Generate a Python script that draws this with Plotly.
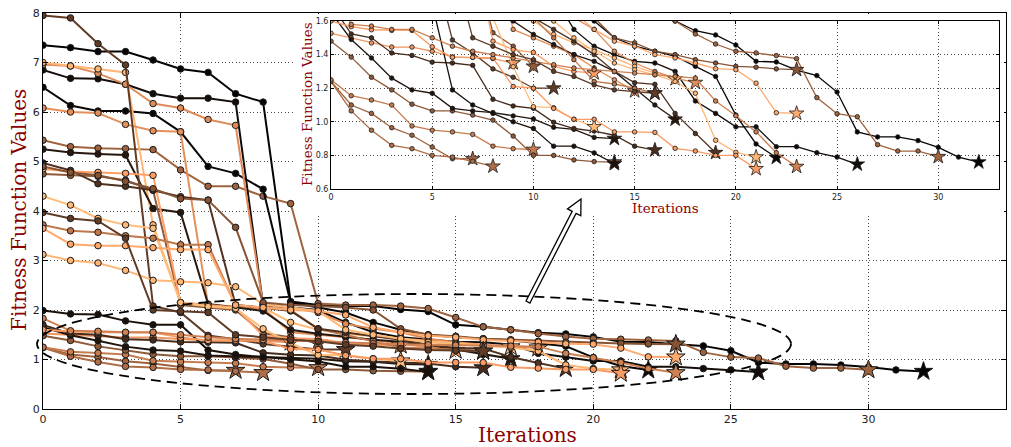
import math
import plotly.graph_objects as go

# ---------------- data (fitness value per iteration, one list per run) ----------------
run_01 = [7.35, 7.3, 7.22, 7.22, 7.05, 6.87, 6.8, 6.37, 6.2, 2.17, 2.1, 2.08, 2.08, 2.01, 1.97, 1.70, 1.66, 1.6,
          1.542, 1.517, 1.457, 1.36, 1.356, 1.308, 1.275, 1.177, 0.94, 0.91, 0.91, 0.888, 0.848, 0.79, 0.76]
run_02 = [5.43, 5.3, 5.27, 5.26, 5.24, 4.83, 4.5, 4.5, 4.3, 4.15, 2.13, 2.1, 2.1, 2.08, 2.03, 1.85, 1.66, 1.6,
          1.523, 1.463, 1.42, 1.41, 1.394, 1.376, 1.144, 1.048, 1.03, 0.864, 0.826, 0.826, 0.792]
run_03 = [6.85, 6.68, 6.67, 6.56, 6.37, 6.28, 6.28, 6.2, 2.1, 2.05, 2.0, 1.75, 1.55, 1.45, 1.40, 1.36, 1.35, 1.30,
          1.124, 1.05, 0.97, 0.97, 0.852, 0.852, 0.816, 0.79, 0.747]
run_04 = [6.5, 6.13, 6.02, 6.02, 5.97, 5.6, 4.9, 4.76, 4.44, 2.15, 2.05, 1.95, 1.75, 1.6, 1.5, 1.45, 1.42, 1.39,
          1.33, 1.27, 1.04, 0.868, 0.787]
run_05 = [6.96, 6.93, 6.78, 6.56, 6.17, 6.08, 5.85, 5.73, 2.1, 2.05, 1.95, 1.72, 1.62, 1.55, 1.42, 1.35, 1.30, 1.26, 1.233]
run_06 = [7.0, 6.93, 6.87, 6.80, 3.72, 2.15, 2.1, 2.08, 2.05, 1.75, 1.6, 1.52, 1.47, 1.43, 1.38, 1.33, 1.29, 1.255]
run_07 = [6.08, 6.0, 5.98, 5.75, 5.62, 5.6, 2.1, 2.05, 2.03, 1.55, 1.50, 1.45, 1.4, 1.32, 1.25, 1.183]
run_08 = [5.25, 5.18, 5.15, 5.13, 4.05, 3.97, 2.12, 2.05, 1.98, 1.6, 1.52, 1.46, 1.40, 1.36, 1.30, 1.20, 1.10, 1.015]
run_09 = [1.24, 1.10, 1.05, 0.965, 0.92, 0.85, 0.78, 0.78]
run_10 = [1.24, 1.065, 0.95, 0.86, 0.84, 0.80, 0.79, 0.765, 0.735]
run_11 = [1.25, 1.155, 1.13, 1.10, 0.975, 0.95, 0.94, 0.925, 0.855, 0.84, 0.835]
run_12 = [1.527, 1.50, 1.469, 1.445, 1.445, 1.42, 1.386, 1.383, 1.376, 1.35]
run_13 = [1.48, 1.385, 1.265, 1.19, 1.105, 1.065, 1.065, 1.04, 1.01, 0.915, 0.80, 0.80, 0.773, 0.763, 0.76]
run_14 = [1.65, 1.49, 1.38, 1.26, 1.19, 1.17, 1.08, 1.065, 1.055, 1.035, 1.017, 0.967, 0.955, 0.907, 0.9]
run_15 = [1.70, 1.523, 1.50, 1.41, 1.395, 1.355, 1.35, 1.336, 1.134, 1.094, 1.08, 0.997, 0.96, 0.945, 0.92, 0.855, 0.832]
run_16 = [1.99, 1.92, 1.91, 1.78, 1.70, 1.70, 1.19, 1.10, 1.05, 1.00, 0.96, 0.855, 0.855, 0.815, 0.75]
run_17 = [4.75, 4.72, 4.70, 4.62, 4.42, 2.1, 2.05, 2.0, 1.53, 1.45, 1.33]
run_18 = [7.95, 7.9, 7.38, 6.95, 2.08, 1.95, 1.487, 1.41, 1.315, 1.265, 1.2, 1.2]
run_19 = [4.85, 4.8, 4.78, 4.76, 4.72, 2.15, 2.1, 2.05, 1.48, 1.43, 1.413, 1.33, 1.30, 1.29]
run_20 = [4.3, 4.12, 3.85, 3.72, 3.65, 2.15, 2.07, 2.03, 1.62, 1.328, 1.09, 1.084, 1.015, 0.97]
run_21 = [3.72, 3.6, 3.57, 3.5, 3.45, 3.32, 3.32, 2.1, 2.05, 2.0, 1.62, 1.5, 1.37, 1.24, 1.225, 1.20, 1.17]
run_22 = [4.97, 4.82, 4.55, 4.5, 4.42, 4.29, 4.22, 2.1, 2.05, 1.98, 1.62, 1.55, 1.48, 1.4, 1.3, 1.233, 1.223,
          1.05, 0.93, 0.816]
run_23 = [3.12, 3.0, 2.95, 2.8, 2.6, 2.57, 2.55, 2.47, 2.12, 2.05, 1.98, 1.6, 1.5, 1.42, 1.35, 1.31, 1.28, 1.24,
          1.17, 0.89, 0.818, 0.79]
run_24 = [1.60, 1.566, 1.548, 1.544, 1.544, 1.447, 1.384, 1.384, 1.38, 1.21, 1.20, 1.08, 1.015, 1.015, 0.94, 0.94,
          0.937, 0.842, 0.826, 0.80, 0.80, 0.72]
run_25 = [4.9, 4.78, 4.72, 4.6, 4.45, 4.25, 4.22, 3.67, 2.15, 2.1, 2.08, 2.05, 2.0, 1.62, 1.50, 1.47, 1.42, 1.40,
          1.37, 1.35, 1.33, 1.325, 1.315, 1.31]
run_26 = [3.65, 3.33, 3.3, 3.3, 3.26, 3.22, 3.22, 2.1, 2.05, 2.0, 1.98, 1.9, 1.65, 1.55, 1.48, 1.45, 1.40, 1.38,
          1.35, 1.316, 1.31, 1.23, 1.054, 1.05]
run_27 = [1.83, 1.58, 1.57, 1.55, 1.55, 1.5, 1.45, 1.42, 1.40, 1.38, 1.36, 1.34, 1.32, 1.31, 1.30, 1.29, 1.28, 1.27,
          1.26, 1.124, 1.036, 0.94, 0.816, 0.733]
run_28 = [3.97, 3.85, 3.8, 3.45, 2.0, 1.97, 1.95, 1.5, 1.45, 1.40, 1.37, 1.30, 1.27, 1.22, 1.19, 1.18, 1.17]

runs = [run_01, run_02, run_03, run_04, run_05, run_06, run_07, run_08, run_09, run_10, run_11, run_12, run_13,
        run_14, run_15, run_16, run_17, run_18, run_19, run_20, run_21, run_22, run_23, run_24, run_25, run_26,
        run_27, run_28]

# ---------------- style ----------------
shade = [0.02, 0.5, 0.06, 0.03, 0.7, 0.92, 0.72, 0.12, 0.5, 0.55, 0.62, 0.75, 0.45, 0.1, 0.22, 0.08, 0.45, 0.3,
         0.8, 0.95, 0.6, 0.25, 0.92, 0.78, 0.42, 0.85, 0.65, 0.3]


def copper(t):
    r = min(1.0, 1.25 * t)
    g = 0.7812 * t
    b = 0.4975 * t
    return "rgb(%d,%d,%d)" % (round(r * 255), round(g * 255), round(b * 255))


W, H = 1011, 447
L, R, T, B = 43, 1006, 13, 409  # main plot area in pixels


def px(xp, yp):
    return (xp - L) / (R - L), (B - yp) / (B - T)


fig = go.Figure()

for vals, t in zip(runs, shade):
    col = copper(t)
    n = len(vals)
    xs = list(range(n))
    fig.add_trace(go.Scatter(
        x=xs, y=vals, mode="lines+markers", xaxis="x", yaxis="y",
        line=dict(color=col, width=2),
        marker=dict(symbol=["circle"] * (n - 1) + ["star"], size=[6.5] * (n - 1) + [14], opacity=1,
                    color=col, line=dict(color="#1a1a1a", width=1)),
        hoverinfo="skip", showlegend=False))

# white panel behind the inset (subplot x2/y2)
fig.add_trace(go.Scatter(x=[0, 1, 1, 0, 0], y=[0, 0, 1, 1, 0], mode="lines", fill="toself",
                         fillcolor="white", line=dict(width=0, color="white"),
                         xaxis="x2", yaxis="y2", hoverinfo="skip", showlegend=False))

# inset (subplot x3/y3)
for vals, t in zip(runs, shade):
    col = copper(t)
    n = len(vals)
    xs = list(range(n))
    fig.add_trace(go.Scatter(
        x=xs, y=vals, mode="lines+markers", xaxis="x3", yaxis="y3",
        line=dict(color=col, width=1.3),
        marker=dict(symbol=["circle"] * (n - 1) + ["star"], size=[4.5] * (n - 1) + [11], opacity=1,
                    color=col, line=dict(color="#1a1a1a", width=0.8)),
        hoverinfo="skip", showlegend=False))

grid_col = "rgba(40,40,40,0.85)"
grid_dash = "1px,2.5px"
tickfont_main = dict(family="DejaVu Sans", size=11, color="#222")
tickfont_in = dict(family="DejaVu Sans", size=8, color="#222")

ix0, iy0 = px(331, 189)
ix1, iy1 = px(999, 21)
bx0, by0 = px(295, 216)
bx1, by1 = px(1004, 14)

fig.update_layout(
    width=W, height=H,
    margin=dict(l=L, r=W - R, t=T, b=H - B, autoexpand=False),
    paper_bgcolor="white", plot_bgcolor="white",
    showlegend=False,
    xaxis=dict(range=[0, 35], dtick=5, domain=[0, 1], showgrid=True, gridcolor=grid_col, griddash=grid_dash,
               gridwidth=1, zeroline=False, showline=True, linecolor="black", linewidth=1.2, mirror="ticks",
               ticks="inside", ticklen=5, tickcolor="black", tickfont=tickfont_main, automargin=False),
    yaxis=dict(range=[0, 8], dtick=1, domain=[0, 1], showgrid=True, gridcolor=grid_col, griddash=grid_dash,
               gridwidth=1, zeroline=False, showline=True, linecolor="black", linewidth=1.2, mirror="ticks",
               ticks="inside", ticklen=5, tickcolor="black", tickfont=tickfont_main, automargin=False),
    xaxis2=dict(range=[0, 1], domain=[bx0, bx1], anchor="y2", visible=False, fixedrange=True),
    yaxis2=dict(range=[0, 1], domain=[by0, by1], anchor="x2", visible=False, fixedrange=True),
    xaxis3=dict(range=[0, 33], dtick=5, domain=[ix0, ix1], anchor="y3", showgrid=True, gridcolor=grid_col,
                griddash=grid_dash, gridwidth=1, zeroline=False, showline=True, linecolor="black", linewidth=1,
                mirror="ticks", ticks="inside", ticklen=3, tickcolor="black", tickfont=tickfont_in,
                automargin=False),
    yaxis3=dict(range=[0.6, 1.6], dtick=0.2, tickformat=".1f", domain=[iy0, iy1], anchor="x3", showgrid=True,
                gridcolor=grid_col, griddash=grid_dash, gridwidth=1, zeroline=False, showline=True,
                linecolor="black", linewidth=1, mirror="ticks", ticks="inside", ticklen=3, tickcolor="black",
                tickfont=tickfont_in, automargin=False),
)

title_font = dict(family="DejaVu Serif", size=20, color="#8b0000")
title_font_in = dict(family="DejaVu Serif", size=13.5, color="#8b0000")

ann = []
cx, cy = px(527, 435)
ann.append(dict(text="Iterations", x=cx, y=cy, xref="paper", yref="paper", showarrow=False, font=title_font,
                xanchor="center", yanchor="middle"))
cx, cy = px(19, 210)
ann.append(dict(text="Fitness Function Values", x=cx, y=cy, xref="paper", yref="paper", showarrow=False,
                font=title_font, textangle=-90, xanchor="center", yanchor="middle"))
cx, cy = px(665, 208)
ann.append(dict(text="Iterations", x=cx, y=cy, xref="paper", yref="paper", showarrow=False, font=title_font_in,
                xanchor="center", yanchor="middle"))
cx, cy = px(307, 104)
ann.append(dict(text="Fitness Function Values", x=cx, y=cy, xref="paper", yref="paper", showarrow=False,
                font=title_font_in, textangle=-90, xanchor="center", yanchor="middle"))
fig.update_layout(annotations=ann)

# dashed ellipse marking the zoomed region
ex0, ey0 = px(37, 394)
ex1, ey1 = px(791, 294)
shapes = [dict(type="circle", xref="paper", yref="paper", x0=ex0, y0=ey0, x1=ex1, y1=ey1,
               line=dict(color="black", width=1.8, dash="10px,6px"), layer="above")]

# hollow arrow pointing to the inset
tail = (528.0, 302.0)
tip = (581.0, 199.0)
dx, dy = tip[0] - tail[0], tip[1] - tail[1]
Ln = math.hypot(dx, dy)
ux, uy = dx / Ln, dy / Ln
nx, ny = -uy, ux
w, hw, hl = 2.2, 7.5, 15.0
neck = (tip[0] - ux * hl, tip[1] - uy * hl)
pts = [(tail[0] + nx * w, tail[1] + ny * w), (neck[0] + nx * w, neck[1] + ny * w),
       (neck[0] + nx * hw, neck[1] + ny * hw), tip,
       (neck[0] - nx * hw, neck[1] - ny * hw), (neck[0] - nx * w, neck[1] - ny * w),
       (tail[0] - nx * w, tail[1] - ny * w)]
pp = [px(a, b) for a, b in pts]
path = "M " + " L ".join("%.5f,%.5f" % p for p in pp) + " Z"
shapes.append(dict(type="path", xref="paper", yref="paper", path=path, fillcolor="white",
                   line=dict(color="black", width=1.3), layer="above"))
fig.update_layout(shapes=shapes)

fig.write_html("out.html", config={"displayModeBar": False},
               post_script="document.body.style.margin='0px';document.body.style.overflow='hidden';")
